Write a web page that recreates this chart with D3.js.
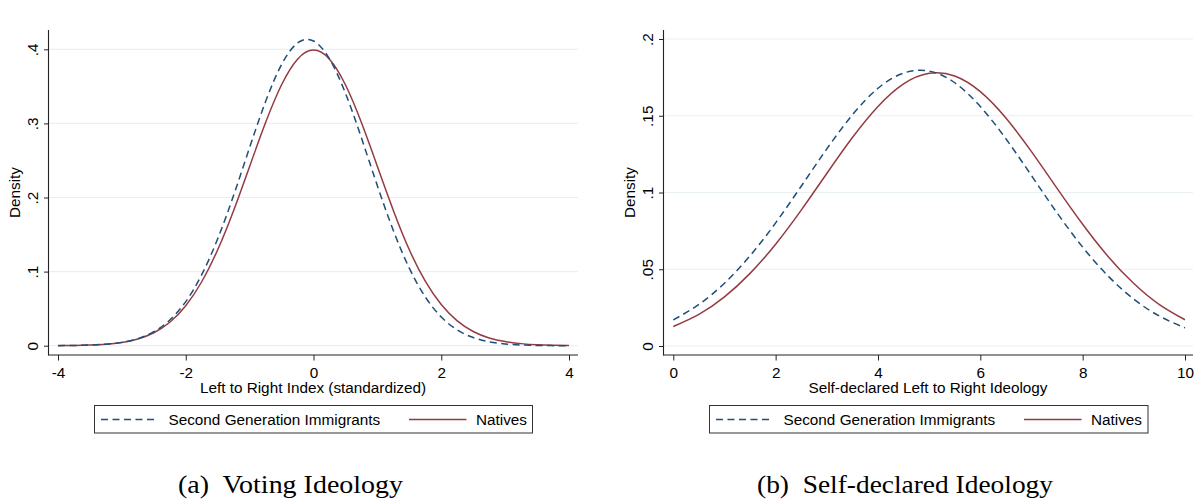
<!DOCTYPE html>
<html>
<head>
<meta charset="utf-8">
<script src="https://cdn.jsdelivr.net/npm/d3@7"></script>
<style>
  html, body { margin: 0; padding: 0; background: #ffffff; }
  svg { display: block; }
  text { font-family: "Liberation Sans", Arial, sans-serif; fill: #000; }
  .caption { font-family: "Liberation Serif", "Times New Roman", serif; }
</style>
</head>
<body>
<svg id="chart" width="1201" height="503"></svg>
<script>
// ---------- DATA ----------
const seriesNames = ["Second Generation Immigrants", "Natives"];

// Panel (a): Voting Ideology
const leftX = [-4, -3.75, -3.5, -3.25, -3, -2.75, -2.5, -2.25, -2, -1.75, -1.5, -1.25, -1, -0.75, -0.5, -0.25,
               0, 0.25, 0.5, 0.75, 1, 1.25, 1.5, 1.75, 2, 2.25, 2.5, 2.75, 3, 3.25, 3.5, 3.75, 4];
const leftImmigrants = [0.0001, 0.0003, 0.0009, 0.0021, 0.0045, 0.0095, 0.0188, 0.0346, 0.0595, 0.0958, 0.1443, 0.2031,
                        0.2676, 0.3295, 0.3794, 0.4085, 0.4112, 0.3871, 0.3407, 0.2805, 0.2159, 0.1554, 0.1046, 0.0658,
                        0.0387, 0.0213, 0.0110, 0.0053, 0.0024, 0.0010, 0.0004, 0.0001, 0.0000];
const leftNatives = [0.0002, 0.0004, 0.0009, 0.0020, 0.0044, 0.0091, 0.0175, 0.0317, 0.0540, 0.0863, 0.1295, 0.1826,
                     0.2420, 0.3011, 0.3521, 0.3867, 0.3989, 0.3867, 0.3521, 0.3011, 0.2420, 0.1826, 0.1295, 0.0870,
                     0.0555, 0.0335, 0.0192, 0.0105, 0.0056, 0.0028, 0.0013, 0.0006, 0.0002];
const leftXTicks = [-4, -2, 0, 2, 4];
const leftXTickLabels = ["-4", "-2", "0", "2", "4"];
const leftYTicks = [0, 0.1, 0.2, 0.3, 0.4];
const leftYTickLabels = ["0", ".1", ".2", ".3", ".4"];
const leftXTitle = "Left to Right Index (standardized)";
const leftCaption = "(a)  Voting Ideology";

// Panel (b): Self-declared Ideology
const rightX = [0, 0.5, 1, 1.5, 2, 2.5, 3, 3.5, 4, 4.5, 5, 5.5, 6, 6.5, 7, 7.5, 8, 8.5, 9, 9.5, 10];
const rightImmigrants = [0.0170, 0.0271, 0.0409, 0.0588, 0.0802, 0.1041, 0.1284, 0.1506, 0.1679, 0.1778, 0.1791,
                         0.1715, 0.1560, 0.1350, 0.1110, 0.0867, 0.0644, 0.0455, 0.0305, 0.0195, 0.0118];
const rightNatives = [0.0127, 0.0206, 0.0320, 0.0473, 0.0663, 0.0885, 0.1124, 0.1358, 0.1561, 0.1708, 0.1777,
                      0.1759, 0.1657, 0.1485, 0.1266, 0.1027, 0.0793, 0.0582, 0.0407, 0.0270, 0.0171];
const rightXTicks = [0, 2, 4, 6, 8, 10];
const rightXTickLabels = ["0", "2", "4", "6", "8", "10"];
const rightYTicks = [0, 0.05, 0.1, 0.15, 0.2];
const rightYTickLabels = ["0", ".05", ".1", ".15", ".2"];
const rightXTitle = "Self-declared Left to Right Ideology";
const rightCaption = "(b)  Self-declared Ideology";

const yTitle = "Density";

// ---------- STYLE / LAYOUT ----------
const colImm = "#1f4e79";
const colNat = "#943b42";
const gridCol = "#e9f0f2";
const axisCol = "#222";
const fs = 15.3;

const panels = [
  {
    x: leftX, imm: leftImmigrants, nat: leftNatives,
    xDomain: [-4, 4], xRange: [58, 569], axisX: [48.5, 578],
    yDomain: [0, 0.4], yRange: [345.7, 49.3], axisY: [30, 355],
    xTicks: leftXTicks, xTickLabels: leftXTickLabels,
    yTicks: leftYTicks, yTickLabels: leftYTickLabels,
    yLabelX: 38, yTitleX: 19.5,
    xTitle: leftXTitle, xTitleX: 313,
    legend: [94.5, 532.5], caption: leftCaption, capX: [178, 403]
  },
  {
    x: rightX, imm: rightImmigrants, nat: rightNatives,
    xDomain: [0, 10], xRange: [673.3, 1185], axisX: [663.5, 1193],
    yDomain: [0, 0.2], yRange: [346, 39], axisY: [30, 355],
    xTicks: rightXTicks, xTickLabels: rightXTickLabels,
    yTicks: rightYTicks, yTickLabels: rightYTickLabels,
    yLabelX: 653, yTitleX: 634.5,
    xTitle: rightXTitle, xTitleX: 928,
    legend: [709.5, 1148], caption: rightCaption, capX: [757, 1053]
  }
];

const svg = d3.select("#chart");

panels.forEach(p => {
  const g = svg.append("g");
  const xs = d3.scaleLinear().domain(p.xDomain).range(p.xRange);
  const ys = d3.scaleLinear().domain(p.yDomain).range(p.yRange);
  const axLeft = p.axisX[0], axRight = p.axisX[1];
  const axBottom = p.axisY[1];

  // gridlines
  g.append("g").selectAll("line").data(p.yTicks).join("line")
    .attr("x1", axLeft).attr("x2", axRight)
    .attr("y1", d => ys(d)).attr("y2", d => ys(d))
    .attr("stroke", gridCol).attr("stroke-width", 1.2);

  // y axis (ticks + labels)
  const yAxis = d3.axisLeft(ys).tickValues(p.yTicks).tickSize(4.5).tickPadding(0)
    .tickFormat((d, i) => p.yTickLabels[i]);
  const yg = g.append("g").attr("transform", `translate(${axLeft},0)`).call(yAxis);
  yg.select(".domain").remove();
  yg.selectAll(".tick line").attr("stroke", axisCol);
  yg.selectAll(".tick text")
    .attr("x", null).attr("dy", null)
    .attr("transform", `translate(${p.yLabelX - axLeft},0) rotate(-90)`)
    .attr("text-anchor", "middle")
    .attr("font-size", fs).attr("font-family", "Liberation Sans, Arial, sans-serif").attr("fill", "#000");

  // x axis
  const xAxis = d3.axisBottom(xs).tickValues(p.xTicks).tickSize(5.5).tickPadding(0)
    .tickFormat((d, i) => p.xTickLabels[i]);
  const xg = g.append("g").attr("transform", `translate(0,${axBottom})`).call(xAxis);
  xg.select(".domain").remove();
  xg.selectAll(".tick line").attr("stroke", axisCol);
  xg.selectAll(".tick text")
    .attr("y", 22.5).attr("dy", null)
    .attr("font-size", fs).attr("font-family", "Liberation Sans, Arial, sans-serif").attr("fill", "#000");

  // axis lines
  g.append("line").attr("x1", axLeft).attr("x2", axLeft).attr("y1", p.axisY[0]).attr("y2", axBottom + 0.5)
    .attr("stroke", axisCol).attr("stroke-width", 1.1);
  g.append("line").attr("x1", axLeft).attr("x2", axRight).attr("y1", axBottom).attr("y2", axBottom)
    .attr("stroke", axisCol).attr("stroke-width", 1.1);

  // curves
  const line = d3.line().x(d => xs(d[0])).y(d => ys(d[1])).curve(d3.curveNatural);
  g.append("path").datum(p.x.map((v, i) => [v, p.nat[i]]))
    .attr("d", line).attr("fill", "none").attr("stroke", colNat).attr("stroke-width", 1.5);
  g.append("path").datum(p.x.map((v, i) => [v, p.imm[i]]))
    .attr("d", line).attr("fill", "none").attr("stroke", colImm).attr("stroke-width", 1.5)
    .attr("stroke-dasharray", "7,4.5");

  // y title
  g.append("text").attr("transform", `translate(${p.yTitleX},${(p.axisY[0] + axBottom) / 2}) rotate(-90)`)
    .attr("text-anchor", "middle").attr("font-size", fs).text(yTitle);

  // x title
  g.append("text").attr("x", p.xTitleX).attr("y", 393)
    .attr("text-anchor", "middle").attr("font-size", fs).text(p.xTitle);

  // legend
  const [lx0, lx1] = p.legend;
  g.append("rect").attr("x", lx0).attr("y", 405.5).attr("width", lx1 - lx0).attr("height", 27.5)
    .attr("fill", "#fff").attr("stroke", "#333").attr("stroke-width", 1);
  const ly = 419.5;
  g.append("line").attr("x1", lx0 + 6.5).attr("x2", lx0 + 63).attr("y1", ly).attr("y2", ly)
    .attr("stroke", colImm).attr("stroke-width", 1.5).attr("stroke-dasharray", "7,4.5");
  g.append("text").attr("x", lx0 + 74).attr("y", ly + 5.5).attr("font-size", fs).text(seriesNames[0]);
  g.append("line").attr("x1", lx0 + 314.5).attr("x2", lx0 + 372).attr("y1", ly).attr("y2", ly)
    .attr("stroke", colNat).attr("stroke-width", 1.5);
  g.append("text").attr("x", lx0 + 381.5).attr("y", ly + 5.5).attr("font-size", fs).text(seriesNames[1]);

  // caption
  g.append("text").attr("class", "caption").attr("x", p.capX[0]).attr("y", 493)
    .attr("font-size", 26).attr("textLength", p.capX[1] - p.capX[0]).attr("lengthAdjust", "spacingAndGlyphs")
    .attr("xml:space", "preserve")
    .text(p.caption);
});
</script>
</body>
</html>
